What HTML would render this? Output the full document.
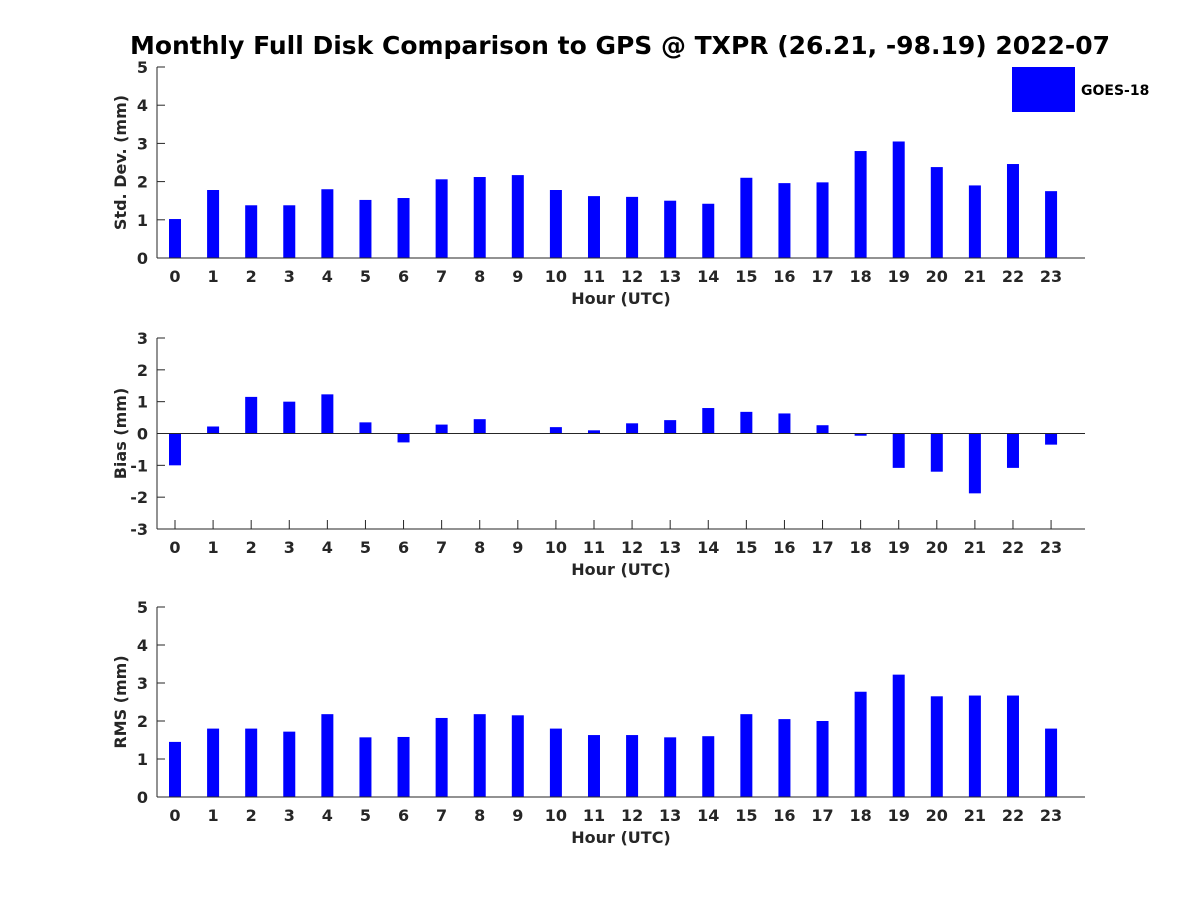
<!DOCTYPE html>
<html><head><meta charset="utf-8"><style>
body{margin:0;background:#fff}
svg text{font-family:"DejaVu Sans","Liberation Sans",sans-serif;font-weight:bold;fill:#262626}
</style></head><body>
<svg id="c" width="1200" height="900" xmlns="http://www.w3.org/2000/svg">
<text x="620" y="54" text-anchor="middle" font-size="25" textLength="980" lengthAdjust="spacingAndGlyphs" style="fill:#000">Monthly Full Disk Comparison to GPS @ TXPR (26.21, -98.19) 2022-07</text>
<rect x="1012" y="67" width="63" height="45" fill="#0000ff"/>
<text x="1081" y="95" font-size="14" style="fill:#000">GOES-18</text>
</svg>
<script>
const hours=[0,1,2,3,4,5,6,7,8,9,10,11,12,13,14,15,16,17,18,19,20,21,22,23];
const stdVals=[1.02,1.78,1.38,1.38,1.8,1.52,1.57,2.06,2.12,2.17,1.78,1.62,1.6,1.5,1.42,2.1,1.96,1.98,2.8,3.05,2.38,1.9,2.46,1.75];
const biasVals=[-1.0,0.22,1.15,1.0,1.23,0.35,-0.28,0.28,0.45,0.0,0.2,0.1,0.32,0.42,0.8,0.68,0.63,0.26,-0.07,-1.08,-1.2,-1.88,-1.08,-0.35];
const rmsVals=[1.45,1.8,1.8,1.72,2.18,1.57,1.58,2.08,2.18,2.15,1.8,1.63,1.63,1.57,1.6,2.18,2.05,2.0,2.77,3.22,2.65,2.67,2.67,1.8];
const stdTicks=[0,1,2,3,4,5];
const biasTicks=[-3,-2,-1,0,1,2,3];
const rmsTicks=[0,1,2,3,4,5];
const svg=document.getElementById('c');
const NS='http://www.w3.org/2000/svg';
function mk(t,a,p){const e=document.createElementNS(NS,t);for(const k in a)e.setAttribute(k,a[k]);p.appendChild(e);return e;}
const x=h=>175+h*38.09;
function panel(name,top,bot,ymin,ymax,vals,ticks,ylabel){
  const g=mk('g',{},svg);
  
  
  const y=v=>bot-(v-ymin)/(ymax-ymin)*(bot-top);
  const L=157,R=1085;
  hours.forEach(h=>{
    mk('line',{x1:x(h),y1:bot,x2:x(h),y2:bot-9,stroke:'#262626'},g);
    const tx=mk('text',{x:x(h),y:bot+24,'font-size':16,'text-anchor':'middle'},g);
    tx.textContent=h;
    
    
  });
  vals.forEach((v,i)=>{
    const y0=y(Math.max(0,ymin)),y1=y(v);
    const r=mk('rect',{x:x(hours[i])-6,y:Math.min(y0,y1),width:12,height:Math.abs(y1-y0),fill:'#0000ff'},g);
    
    
  });
  mk('line',{x1:L,y1:top,x2:L,y2:bot,stroke:'#262626','stroke-width':1},g);
  mk('line',{x1:L,y1:bot,x2:R,y2:bot,stroke:'#262626','stroke-width':1},g);
  if(ymin<0) mk('line',{x1:L,y1:y(0),x2:R,y2:y(0),stroke:'#262626','stroke-width':1},g);
  ticks.forEach(t=>{
    mk('line',{x1:L,y1:y(t),x2:L+8,y2:y(t),stroke:'#262626'},g);
    const tx=mk('text',{x:L-9,y:y(t)+6,'font-size':16,'text-anchor':'end'},g);
    tx.textContent=t;
    
    
  });
  const xl=mk('text',{x:621,y:bot+46,'font-size':16,'text-anchor':'middle'},g);
  xl.textContent='Hour (UTC)';
  
  
  const cy=(top+bot)/2;
  const yl=mk('text',{x:126,y:cy,'font-size':16,'text-anchor':'middle',transform:'rotate(-90 126 '+cy+')'},g);
  yl.textContent=ylabel;
  
  
}
panel('std-dev',67,258,0,5,stdVals,stdTicks,'Std. Dev. (mm)');
panel('bias',338,529,-3,3,biasVals,biasTicks,'Bias (mm)');
panel('rms',607,797,0,5,rmsVals,rmsTicks,'RMS (mm)');
</script>
</body></html>
